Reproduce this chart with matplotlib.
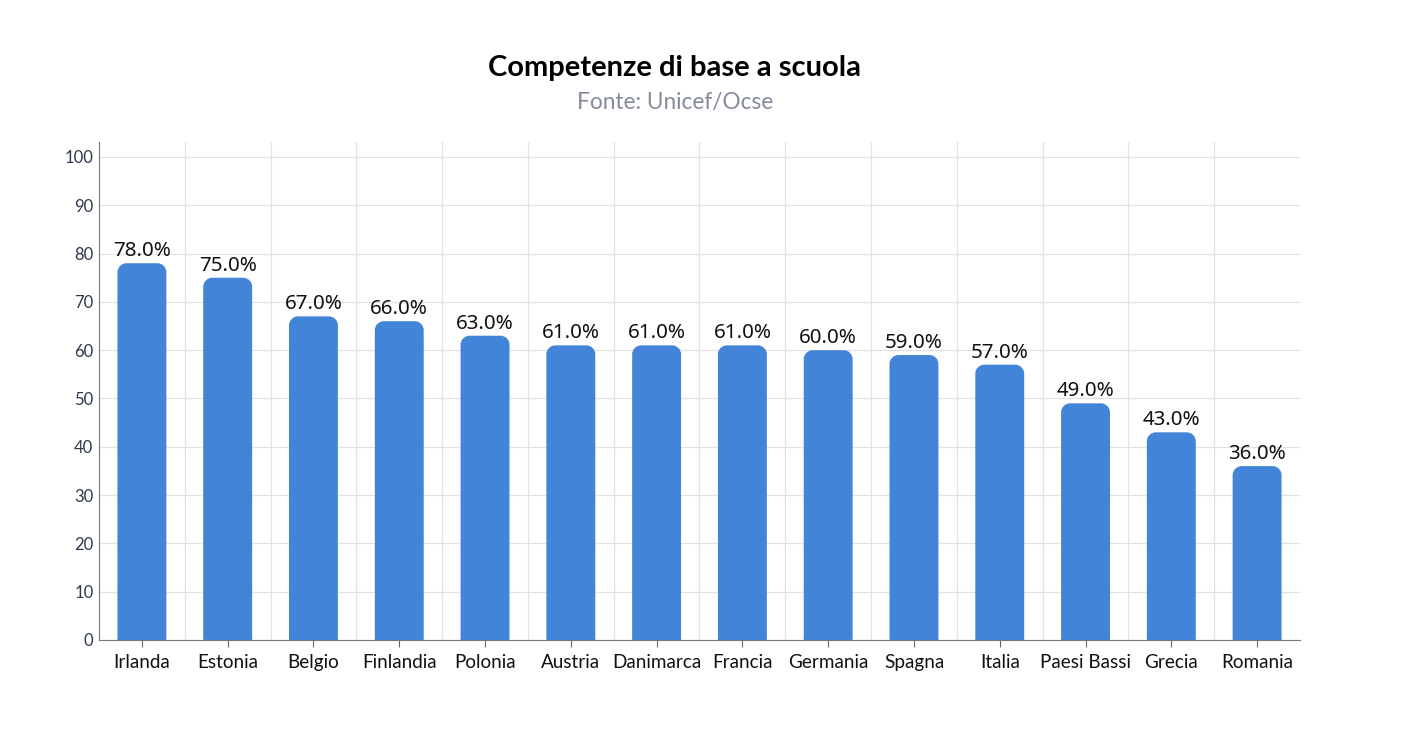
import numpy as np
from matplotlib import pyplot as plt
from matplotlib.path import Path
from matplotlib.patches import PathPatch

# data
paesi = ["Irlanda", "Estonia", "Belgio", "Finlandia", "Polonia", "Austria",
         "Danimarca", "Francia", "Germania", "Spagna", "Italia",
         "Paesi Bassi", "Grecia", "Romania"]
valori = [78, 75, 67, 66, 63, 61, 61, 61, 60, 59, 57, 49, 43, 36]
y_ticks = [0, 10, 20, 30, 40, 50, 60, 70, 80, 90, 100]

bar_color = "#4284d7"

fig = plt.figure(figsize=(14.21, 7.31), dpi=100)
ax = fig.add_axes([99 / 1421, 1 - 640 / 731, (1300 - 99) / 1421, (640 - 142) / 731])

x = np.arange(len(paesi))
bars = ax.bar(x, valori, width=0.57, color=bar_color, zorder=3)

ax.set_xlim(-0.5, len(paesi) - 0.5)
ax.set_ylim(0, 103.1)


def rounded_top(rect, rx, ry):
  '''Returns a path like the rect but with the top corners rounded'''
  x0, y0 = rect.get_x(), rect.get_y()
  w, h = rect.get_width(), rect.get_height()
  x1, y1 = x0 + w, y0 + h
  k = 0.5523
  verts = [
    (x0, y0), (x0, y1 - ry),
    (x0, y1 - ry + k * ry), (x0 + rx - k * rx, y1), (x0 + rx, y1),
    (x1 - rx, y1),
    (x1 - rx + k * rx, y1), (x1, y1 - ry + k * ry), (x1, y1 - ry),
    (x1, y0), (x0, y0)]
  codes = [Path.MOVETO, Path.LINETO,
           Path.CURVE4, Path.CURVE4, Path.CURVE4,
           Path.LINETO,
           Path.CURVE4, Path.CURVE4, Path.CURVE4,
           Path.LINETO, Path.CLOSEPOLY]
  return Path(verts, codes)


# pixel radius -> data units
px_x = (1300 - 99) / len(paesi)
px_y = (640 - 142) / 103.1
radius = 9
for rect in bars:
  rect.set_visible(False)
  p = PathPatch(rounded_top(rect, radius / px_x, radius / px_y),
                facecolor=bar_color, edgecolor="none", zorder=3)
  ax.add_patch(p)

for xi, v in zip(x, valori):
  ax.text(xi, v + 0.45, f"{v:.1f}%", ha="center", va="bottom",
          fontsize=14.8, family="Noto Sans", color="#111111", zorder=4)

# grid
ax.set_yticks(y_ticks)
ax.set_yticklabels([str(t) for t in y_ticks], family="Lato", fontsize=12, color="#2e3a4d")
ax.set_xticks(x)
ax.set_xticklabels(paesi, family="Lato", fontsize=13.6, color="#111111")
ax.set_xticks(x[:-1] + 0.5, minor=True)
ax.grid(axis="y", which="major", color="#e2e2e2", linewidth=0.9, zorder=0)
ax.grid(axis="x", which="minor", color="#e2e2e2", linewidth=0.9, zorder=0)
ax.tick_params(axis="x", which="minor", length=0)
ax.tick_params(axis="x", which="major", length=5, color="#666666", pad=5)
ax.tick_params(axis="y", length=0, pad=4)

for side in ["top", "right"]:
  ax.spines[side].set_visible(False)
ax.spines["left"].set_color("#777777")
ax.spines["bottom"].set_color("#777777")

fig.text(675 / 1421, 1 - 68 / 731, "Competenze di base a scuola", ha="center", va="center",
         family="Lato", fontweight="bold", fontsize=21, color="#000000")
fig.text(675 / 1421, 1 - 102 / 731, "Fonte: Unicef/Ocse", ha="center", va="center",
         family="Lato", fontsize=16.3, color="#868b9c")

fig.savefig("out.png", dpi=100)
